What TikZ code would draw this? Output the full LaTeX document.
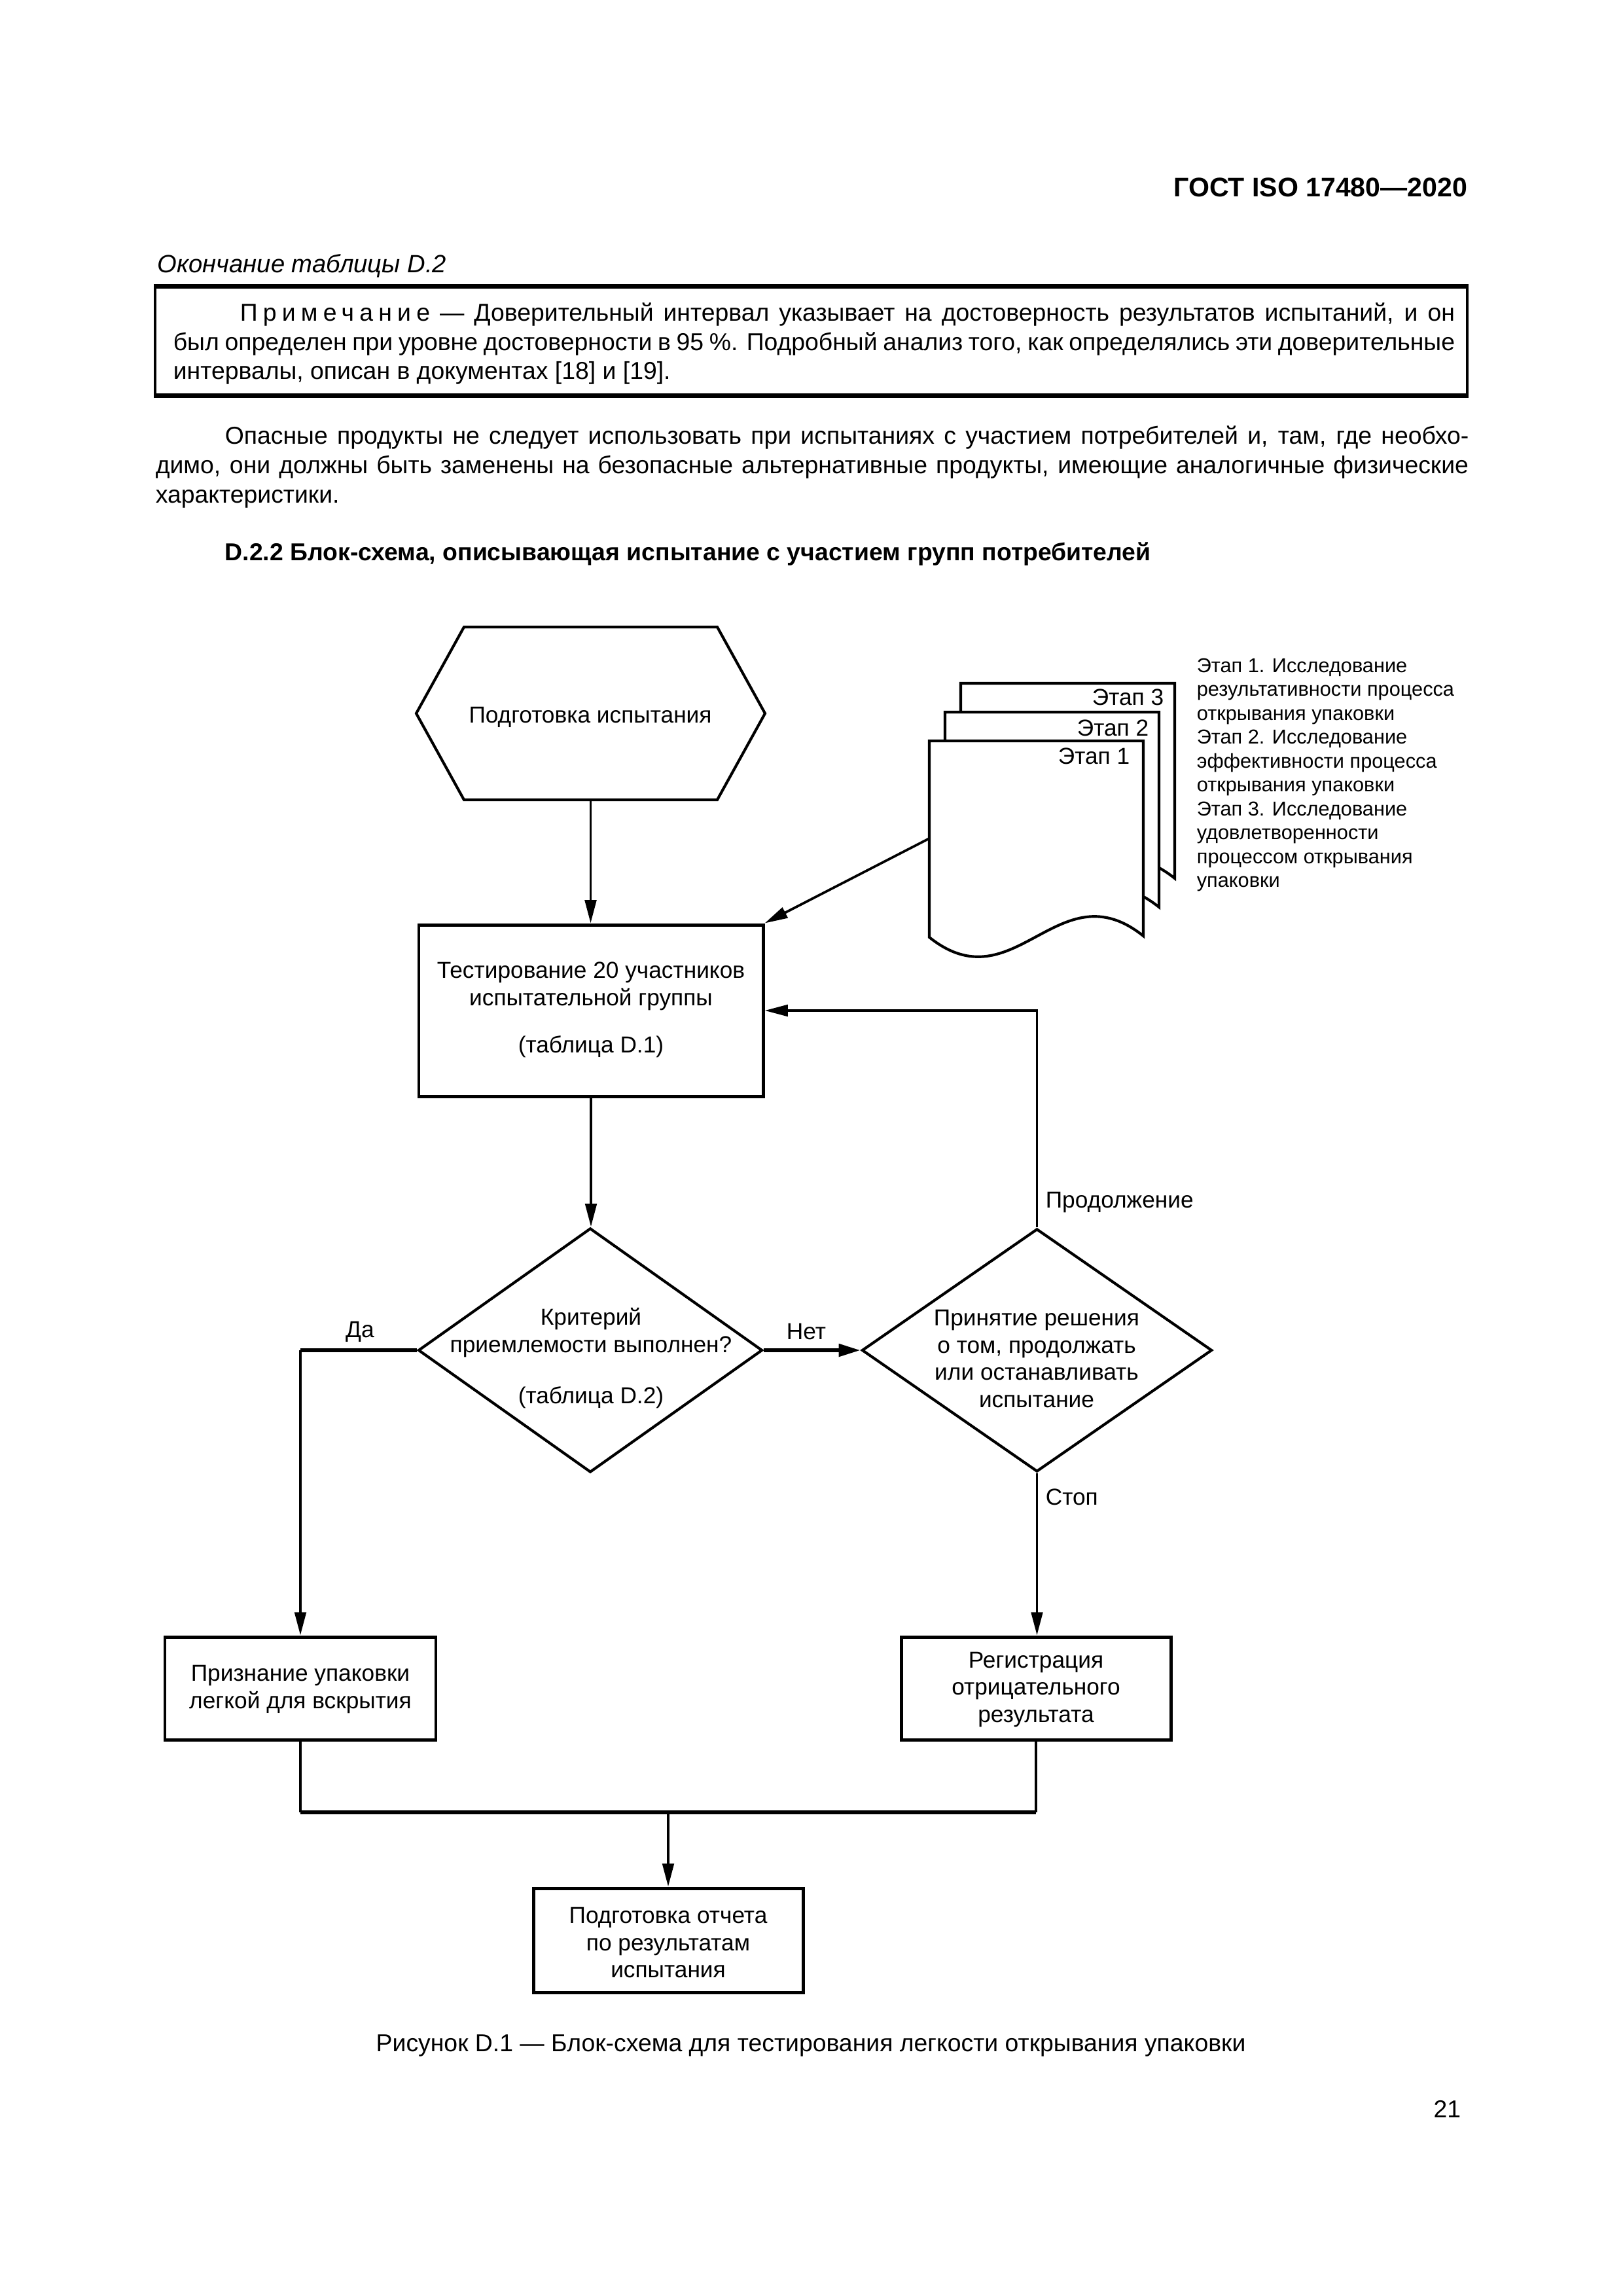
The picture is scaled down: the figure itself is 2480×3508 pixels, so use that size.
\documentclass[tikz,border=0pt]{standalone}
\usepackage{fontspec}
\setmainfont{Liberation Sans}
\usetikzlibrary{arrows.meta,fit,shapes.geometric}
\newcommand{\dfont}{\fontsize{8.5}{10}\selectfont}
\newcommand{\bfont}{\fontsize{9.0}{11}\selectfont}
\newcommand{\ifont}{\fontsize{9.2}{11}\selectfont}
\newcommand{\sfont}{\fontsize{7.4}{8.8}\selectfont}
\newcommand{\hfont}{\fontsize{9.9}{12}\selectfont\bfseries}
\begin{document}
\begin{tikzpicture}[x=0.0846774mm,y=-0.0846774mm,
  boxst/.style={draw, line width=1.2pt, inner sep=0pt},
  dia/.style={diamond, draw, line width=1pt, inner sep=0pt},
  conn/.style={line width=0.9pt},
  thickconn/.style={line width=1.4pt},
  arr/.style={conn, -{Triangle[length=8.5pt,width=4.2pt]}},
  thickarr/.style={thickconn, -{Triangle[length=8pt,width=4.5pt]}},
  txt/.style={inner sep=0pt, font=\dfont, align=center},
  line/.style={anchor=base west, inner sep=0pt, font=\bfont},
  docst/.style={draw, line width=1pt, fill=white}
]
\fill[white] (0,0) rectangle (2480,3508);
\useasboundingbox (0,0) rectangle (2480,3508);

% page header and text
\node[anchor=base east, inner sep=0pt, font=\hfont] (hdr) at (2243,300) {ГОСТ ISO 17480—2020};
\node[line, font=\ifont\itshape] (cont) at (240,416) {Окончание таблицы D.2};

\node[fit={(237,439)(2242,603)}, inner sep=0pt, draw, line width=0.8pt] (note) {};
\draw[line width=1.4pt] (note.north west) -- (note.north east);
\draw[line width=1.4pt] (note.south west) -- (note.south east);
\node[line] (n1) at (366,490) {\makebox[447.2pt][s]{{\addfontfeature{LetterSpace=22}Примечание} — Доверительный интервал указывает на достоверность результатов испытаний, и он}};
\node[line] (n2) at (264,535) {\makebox[471.8pt][s]{был определен при уровне достоверности в 95~\%. Подробный анализ того, как определялись эти доверительные}};
\node[line] (n3) at (264,579) {интервалы, описан в документах [18] и [19].};

\node[line] (p1) at (343,678) {\makebox[457.8pt][s]{Опасные продукты не следует использовать при испытаниях с участием потребителей и, там, где необхо-}};
\node[line] (p2) at (237,723) {\makebox[483.3pt][s]{димо, они должны быть заменены на безопасные альтернативные продукты, имеющие аналогичные физические}};
\node[line] (p3) at (237,768) {характеристики.};
\node[line, font=\bfont\bfseries] (head) at (343,856) {D.2.2 Блок-схема, описывающая испытание с участием групп потребителей};

% hexagon
\node[fit={(636,958)(1169,1222)}, inner sep=0pt] (hex) {};
\draw[line width=1pt, line join=miter] (636,1090) -- (709,958) -- (1096,958) -- (1169,1090) -- (1096,1222) -- (709,1222) -- cycle;
\node[txt] (hext) at (902,1096) {Подготовка испытания};

% documents stack
\foreach \dx/\dy in {48/-88, 24/-44, 0/0} {
  \begin{scope}[shift={(\dx,\dy)}]
    \draw[docst] (1420,1132) -- (1747,1132) -- (1747,1430)
      .. controls (1617,1326) and (1550,1536) .. (1420,1432) -- cycle;
  \end{scope}
}
\node[anchor=east, txt] (e3) at (1779,1065) {Этап 3};
\node[anchor=east, txt] (e2) at (1756,1112) {Этап 2};
\node[anchor=east, txt] (e1) at (1727,1155) {Этап 1};
\coordinate (docin) at (1420,1281);
\node[anchor=west, inner sep=0pt, font=\sfont, align=left] (side) at (1828,1184) {Этап 1. Исследование\\результативности процесса\\открывания упаковки\\Этап 2. Исследование\\эффективности процесса\\открывания упаковки\\Этап 3. Исследование\\удовлетворенности\\процессом открывания\\упаковки};

% main boxes
\node[boxst, fit={(640,1413)(1166,1675)}] (t20) {};
\node[txt] (t20t) at (903,1543) {Тестирование 20 участников\\испытательной группы\\[7.5pt](таблица D.1)};
\node[dia, minimum width=126.7pt, minimum height=89.9pt] (d1) at (902,2063) {};
\node[txt] (d1t) at (903,2075) {Критерий\\приемлемости выполнен?\\[8.7pt](таблица D.2)};
\node[dia, minimum width=128.9pt, minimum height=89.4pt] (d2) at (1584.5,2063) {};
\node[txt] (d2t) at (1584,2076) {Принятие решения\\о том, продолжать\\или останавливать\\испытание};
\node[boxst, fit={(252,2501)(666,2658)}] (pr) {};
\node[txt] (prt) at (459,2581) {Признание упаковки\\легкой для вскрытия};
\node[boxst, fit={(1377,2501)(1789,2658)}] (reg) {};
\node[txt] (regt) at (1583,2581) {Регистрация\\отрицательного\\результата};
\node[boxst, fit={(815,2885)(1227,3044)}] (rep) {};
\node[txt] (rept) at (1021,2968) {Подготовка отчета\\по результатам\\испытания};

% labels
\node[txt] (lyes) at (550,2035) {Да};
\node[txt] (lno) at (1232,2035) {Нет};
\node[txt, anchor=west] (lcont) at (1597,1837) {Продолжение};
\node[txt, anchor=west] (lstop) at (1597,2287) {Стоп};

% connectors
\draw[arr] (hex.south) -- (hex.south |- t20.north);
\draw[arr] (docin) -- (t20.north east);
\draw[arr] (t20.south) -- (t20.south |- d1.north);
\draw[arr] (d2.north) |- (t20.east);
\draw[thickarr] (d1.east) -- (d2.west);
\coordinate (yes) at (pr.north |- d1.west);
\draw[thickconn] (d1.west) -- (yes);
\draw[arr] (yes) -- (pr.north);
\draw[arr] (d2.south) -- (d2.south |- reg.north);
\coordinate (m) at (1021,2769);
\draw[conn] (pr.south) -- (pr.south |- m);
\draw[conn] (reg.south) -- (reg.south |- m);
\draw[thickconn] (pr.south |- m) -- (reg.south |- m);
\draw[arr] (m) -- (m |- rep.north);

% caption and page number
\node[anchor=base, inner sep=0pt, font=\bfont] (cap) at (1239,3134) {Рисунок D.1 — Блок-схема для тестирования легкости открывания упаковки};
\node[anchor=base east, inner sep=0pt, font=\bfont] (pg) at (2233,3235) {21};
\end{tikzpicture}
\end{document}
